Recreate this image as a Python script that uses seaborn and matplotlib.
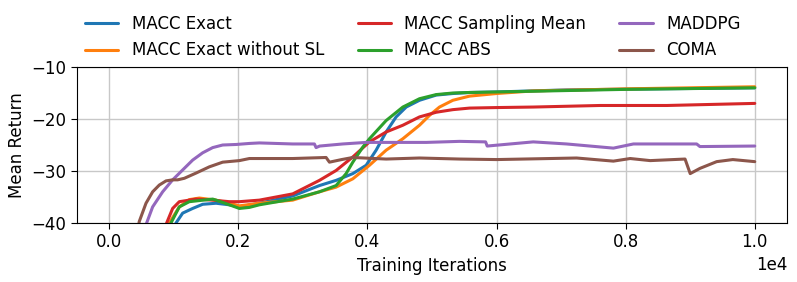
import pandas as pd
import matplotlib
matplotlib.use('Agg')
import matplotlib.pyplot as plt
import seaborn as sns

# values (iterations, mean return)
exact_x = [950, 1034, 1137, 1292, 1447, 1654, 1860, 2016, 2326, 2842, 3256, 3514, 3773, 3980,
           4134, 4289, 4444, 4600, 4806, 5065, 5323, 5581, 6000, 7085, 8500, 10000]
exact_y = [-46, -40, -38.1, -37.2, -36.4, -36.2, -36.5, -36.9, -36.2, -34.8, -32.8, -31.8, -30.5, -28.9,
           -26.0, -22.5, -19.6, -17.7, -16.4, -15.4, -15.1, -14.9, -14.8, -14.4, -14.2, -14.0]

nosl_x = [830, 930, 1085, 1240, 1395, 1654, 1860, 2016, 2326, 2842, 3256, 3514, 3773, 4031,
          4289, 4548, 4806, 4961, 5116, 5323, 5581, 6000, 6568, 8000, 10000]
nosl_y = [-46, -40, -36.9, -35.5, -35.2, -35.6, -36.2, -36.7, -36.2, -35.6, -34.0, -33.1, -31.5, -28.9,
          -26.0, -23.8, -21.2, -19.3, -17.7, -16.4, -15.6, -15.1, -14.6, -14.2, -13.8]

samp_x = [790, 889, 982, 1085, 1344, 1602, 1860, 2016, 2326, 2842, 3256, 3514, 3773, 4031,
          4289, 4548, 4806, 5065, 5323, 5581, 6000, 6568, 7602, 8636, 10000]
samp_y = [-46, -40, -37.2, -35.9, -35.4, -35.6, -35.9, -35.9, -35.6, -34.4, -31.8, -29.9, -27.3, -24.4,
          -22.5, -21.2, -19.6, -18.7, -18.2, -17.9, -17.8, -17.7, -17.4, -17.4, -17.0]

abs_x = [860, 956, 1085, 1240, 1602, 1654, 1860, 2016, 2171, 2326, 2842, 3256, 3514, 3669,
         3773, 3928, 4031, 4289, 4548, 4806, 5065, 5323, 5581, 6000, 8000, 10000]
abs_y = [-46, -40, -36.9, -35.9, -35.4, -35.6, -36.5, -37.2, -37.0, -36.5, -35.4, -34.0, -32.8, -30.5,
         -28.3, -25.4, -23.8, -20.3, -17.7, -16.1, -15.3, -15.0, -14.9, -14.8, -14.3, -14.0]

maddpg_x = [480, 579, 672, 827, 982, 1137, 1292, 1447, 1602, 1757, 1964, 2171, 2326, 2842,
            3178, 3204, 3260, 3617, 3980, 4393, 4910, 5426, 5830, 5855, 6568, 7085, 7810,
            8120, 9100, 9150, 10000]
maddpg_y = [-46, -40, -36.9, -34.0, -31.7, -29.8, -27.9, -26.5, -25.5, -25.0, -24.9, -24.7, -24.6, -24.8,
            -24.8, -25.5, -25.2, -24.8, -24.5, -24.5, -24.5, -24.3, -24.4, -25.2, -24.4, -24.8, -25.6,
            -24.8, -24.8, -25.3, -25.2]

coma_x = [370, 465, 569, 672, 775, 879, 982, 1059, 1163, 1344, 1550, 1757, 2016, 2171, 2326,
          2842, 3359, 3411, 3600, 3773, 4289, 4806, 5426, 6000, 7240, 7810, 8070, 8380, 8920,
          9000, 9150, 9410, 9660, 10000]
coma_y = [-46, -39.7, -36.2, -34.0, -32.7, -31.9, -31.7, -31.7, -31.4, -30.4, -29.2, -28.3, -28.0, -27.6, -27.6,
          -27.6, -27.4, -28.3, -27.8, -27.4, -27.7, -27.5, -27.7, -27.8, -27.5, -28.1, -27.6, -28.0, -27.7,
          -30.5, -29.5, -28.2, -27.8, -28.2]

names = ['MACC Exact', 'MACC Exact without SL', 'MACC Sampling Mean', 'MACC ABS', 'MADDPG', 'COMA']
xs = [exact_x, nosl_x, samp_x, abs_x, maddpg_x, coma_x]
ys = [exact_y, nosl_y, samp_y, abs_y, maddpg_y, coma_y]
colors = ['#1f77b4', '#ff7f0e', '#d62728', '#2ca02c', '#9467bd', '#8c564b']

df = pd.concat([pd.DataFrame({'iter': x, 'ret': y, 'method': n}) for x, y, n in zip(xs, ys, names)])

sns.set_style('ticks', {'axes.grid': True, 'grid.color': '#c8c8c8', 'axes.edgecolor': 'black',
                        'text.color': 'black', 'axes.labelcolor': 'black',
                        'xtick.color': 'black', 'ytick.color': 'black'})
plt.rcParams['font.family'] = ['DejaVu Sans']
plt.rcParams['font.size'] = 12

fig = plt.figure(figsize=(7.97, 2.82), dpi=100)
ax = fig.add_axes([0.0966, 0.2092, 0.8909, 0.5532])
sns.lineplot(data=df, x='iter', y='ret', hue='method', hue_order=names,
             palette=dict(zip(names, colors)), estimator=None, sort=False,
             linewidth=2.2, ax=ax)

ax.set_xlim(-500, 10500)
ax.set_ylim(-40, -10)
ax.set_yticks([-40, -30, -20, -10])
ax.ticklabel_format(style='sci', scilimits=(0, 0), axis='x')
ax.set_xlabel('Training Iterations', fontsize=12)
ax.set_ylabel('Mean Return', fontsize=12)
ax.tick_params(labelsize=12, length=4, color='black')
ax.grid(True, color='#c8c8c8', linewidth=1)
for s in ax.spines.values():
    s.set_color('black')

h, l = ax.get_legend_handles_labels()
ax.legend(h, l, loc='lower center', bbox_to_anchor=(0.473, 0.953), ncol=3,
          frameon=False, fontsize=12)

fig.savefig('out.png', dpi=100)
